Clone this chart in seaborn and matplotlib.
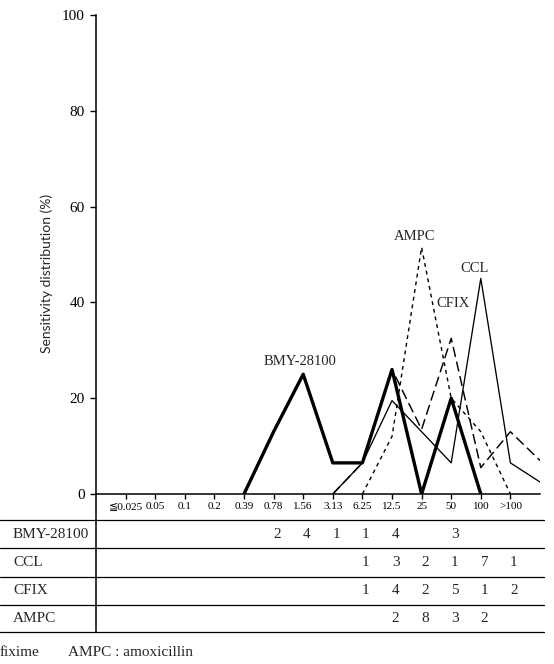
import numpy as np
import pandas as pd
import matplotlib
matplotlib.use("Agg")
import matplotlib.pyplot as plt
import matplotlib.transforms as mtransforms
from matplotlib.lines import Line2D
import seaborn as sns

# ---------------- data ----------------
categories = ["≦0.025", "0.05", "0.1", "0.2", "0.39", "0.78", "1.56",
              "3.13", "6.25", "12.5", "25", "50", "100", ">100"]
# values per category (None = no point); last entry = continuation past ">100"
bmy_pct  = [None, None, None, None, 0, 13, 25, 6.5, 6.5, 26, 0, 20, 0, None, None]
ccl_pct  = [None, None, None, None, None, None, None, 0, 6.5, 19.5, 13, 6.5, 45, 6.5, 2.5]
cfix_pct = [None, None, None, None, None, None, None, 0, 6.5, 26, 13.5, 32.5, 5.5, 13, 7]
ampc_pct = [None, None, None, None, None, None, None, None, 0, 12, 51.5, 20, 13, 0, None]

drugs = ["BMY-28100", "CCL", "CFIX", "AMPC"]
series = [bmy_pct, ccl_pct, cfix_pct, ampc_pct]

# table counts (number of strains per MIC)
bmy_counts  = ["", "", "", "", "", "2", "4", "1", "1", "4", "", "3", "", ""]
ccl_counts  = ["", "", "", "", "", "", "", "", "1", "3", "2", "1", "7", "1"]
cfix_counts = ["", "", "", "", "", "", "", "", "1", "4", "2", "5", "1", "2"]
ampc_counts = ["", "", "", "", "", "", "", "", "", "2", "8", "3", "2", ""]
table_counts = [bmy_counts, ccl_counts, cfix_counts, ampc_counts]

y_ticks = [0, 20, 40, 60, 80, 100]

# ---------------- style ----------------
sns.set_style("ticks")
serif = ["Liberation Serif", "DejaVu Serif", "DejaVu Sans"]
plt.rcParams["font.family"] = serif

W, H = 554, 664
fig = plt.figure(figsize=(W / 100, H / 100), dpi=100)
fig.patch.set_facecolor("white")


def fx(px):
    return px / W


def fy(py):
    return 1 - py / H


ax = fig.add_axes([fx(96), fy(494), (540 - 96) / W, (494 - 15) / H])
ax.set_facecolor("white")

rows = []
for name, vals in zip(drugs, series):
    for i, v in enumerate(vals):
        if v is not None:
            rows.append({"pos": i, "pct": v, "drug": name})
df = pd.DataFrame(rows)

sns.lineplot(
    data=df, x="pos", y="pct", hue="drug", style="drug", size="drug",
    hue_order=drugs, style_order=drugs, size_order=drugs,
    palette={d: "black" for d in drugs},
    dashes={"BMY-28100": "", "CCL": "", "CFIX": (7, 3.2), "AMPC": (2.8, 2.8)},
    sizes={"BMY-28100": 2.4, "CCL": 0.95, "CFIX": 1.05, "AMPC": 1.0},
    estimator=None, sort=True, legend=False, ax=ax,
)

ax.set_xlim(-1, 14)
ax.set_ylim(0, 100)
ax.set_xticks(range(len(categories)))
ax.set_xticklabels(categories, fontsize=8)
ax.set_yticks(y_ticks)
ax.set_yticklabels([str(t) for t in y_ticks], fontsize=11)
ax.tick_params(axis="x", direction="out", length=3.6, width=1.0, pad=2.5, colors="black")
ax.tick_params(axis="y", direction="out", length=4.3, width=1.0, pad=3.6, colors="black")
ax.set_xlabel("")
ax.set_ylabel("")
for s in ["top", "right"]:
    ax.spines[s].set_visible(False)
for s in ["left", "bottom"]:
    ax.spines[s].set_linewidth(1.1)
    ax.spines[s].set_color("black")

# y label (sans, as in the scan)
fig.text(fx(47), fy(273), "Sensitivity distribution (%)", rotation=90,
         ha="center", va="center", fontsize=10, family=["Lato", "DejaVu Sans"])

# series labels
ax.text(9.76, 53.8, "AMPC", ha="center", va="center", fontsize=10.5)
ax.text(11.8, 47.0, "CCL", ha="center", va="center", fontsize=10.5)
ax.text(11.05, 39.7, "CFIX", ha="center", va="center", fontsize=10.5)
ax.text(5.9, 27.6, "BMY-28100", ha="center", va="center", fontsize=10.5)

# ---------------- table ----------------
line_ys = [520, 548, 577, 605, 632]
for ly in line_ys:
    fig.add_artist(Line2D([fx(0), fx(544)], [fy(ly), fy(ly)], color="black", lw=0.9))
fig.add_artist(Line2D([fx(96), fx(96)], [fy(494), fy(632)], color="black", lw=1.1))

blend = mtransforms.blended_transform_factory(ax.transData, fig.transFigure)
for r, (name, counts) in enumerate(zip(drugs, table_counts)):
    cy = (line_ys[r] + line_ys[r + 1]) / 2
    fig.text(fx(13), fy(cy), name, ha="left", va="center", fontsize=11)
    for i, c in enumerate(counts):
        if c:
            ax.text(i + 0.12, fy(cy), c, transform=blend, ha="center", va="center", fontsize=11)

fig.text(fx(0), fy(652), "fixime", ha="left", va="center", fontsize=11)
fig.text(fx(68), fy(652), "AMPC : amoxicillin", ha="left", va="center", fontsize=11)

fig.savefig("out.png", dpi=100, facecolor="white")
